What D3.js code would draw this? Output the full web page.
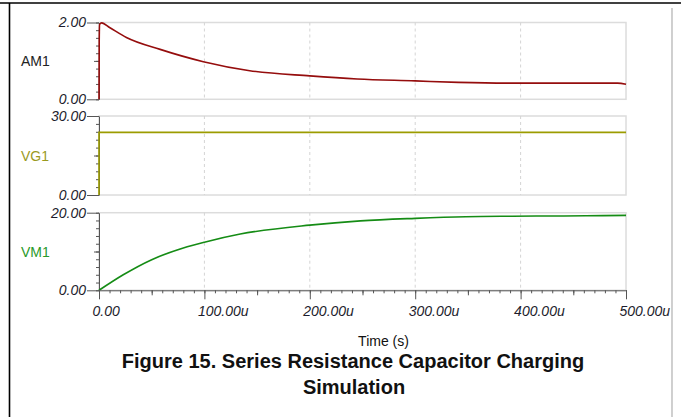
<!DOCTYPE html>
<html>
<head>
<meta charset="utf-8">
<script src="https://cdn.jsdelivr.net/npm/d3@7"></script>
<style>
  body { margin: 0; background: #fff; }
  svg { display: block; font-family: "Liberation Sans", Arial, sans-serif; }
  .lbl { font-size: 14px; font-style: italic; fill: #1c1c2c; }
</style>
</head>
<body>
<svg width="681" height="417"></svg>
<script>
// time in microseconds
var amTime = [0, 0.2, 0.6, 2.5, 10, 26, 58, 99, 143, 200, 245, 300, 341, 387, 492, 500];
var amValue = [0, 1.5, 1.95, 1.99, 1.87, 1.61, 1.30, 0.98, 0.745, 0.61, 0.53, 0.48, 0.44, 0.42, 0.42, 0.39];

var vgTime = [0, 0, 500];
var vgValue = [0, 23.8, 23.8];

var vmTime = [0, 23, 50, 80, 100, 134, 200, 248, 300, 348, 392, 462, 500];
var vmValue = [0, 4.0, 7.9, 10.9, 12.4, 14.5, 16.8, 17.9, 18.55, 18.97, 19.1, 19.2, 19.3];

var xTicks = [0, 100, 200, 300, 400, 500];
var xTickLabels = ["0.00", "100.00u", "200.00u", "300.00u", "400.00u", "500.00u"];

var panelNames = ["AM1", "VG1", "VM1"];
var panelMax = [2, 30, 20];

var width = 681;
var height = 417;
var plotLeft = 99;
var plotRight = 626;

var svg = d3.select('svg');

svg.append("rect").attr("width", width).attr("height", height).attr("fill", "#fff");

// page frame
svg.append("line").attr("x1", 0).attr("x2", width).attr("y1", 3).attr("y2", 3)
  .attr("stroke", "#000").attr("stroke-width", 1.6);
svg.append("line").attr("x1", 9.5).attr("x2", 9.5).attr("y1", 3).attr("y2", height)
  .attr("stroke", "#000").attr("stroke-width", 1.6);
svg.append("line").attr("x1", 672).attr("x2", 672).attr("y1", 8).attr("y2", height)
  .attr("stroke", "#c4c4c4").attr("stroke-width", 1.6);

var x = d3.scaleLinear().domain([0, 500]).range([plotLeft, plotRight]);

var panels = [
  {name: panelNames[0], max: panelMax[0], top: 22.5, bottom: 99.3, labelColor: "#222",
   lineColor: "#950d0d", time: amTime, value: amValue, curve: d3.curveMonotoneX},
  {name: panelNames[1], max: panelMax[1], top: 116, bottom: 195, labelColor: "#9a9a1e",
   lineColor: "#9c9c00", time: vgTime, value: vgValue, curve: d3.curveLinear},
  {name: panelNames[2], max: panelMax[2], top: 212.7, bottom: 290.3, labelColor: "#2a9a2a",
   lineColor: "#158c15", time: vmTime, value: vmValue, curve: d3.curveMonotoneX}
];

var fmt = d3.format(".2f");

panels.forEach(function (p, i) {
  var y = d3.scaleLinear().domain([0, p.max]).range([p.bottom, p.top]);
  var g = svg.append("g");

  // frame
  g.append("rect")
    .attr("x", plotLeft).attr("y", p.top)
    .attr("width", plotRight - plotLeft).attr("height", p.bottom - p.top)
    .attr("fill", "none").attr("stroke", "#dcdcdc").attr("stroke-width", 1.5);

  // dashed vertical grid
  g.selectAll("line.grid")
    .data(xTicks.slice(1, -1))
    .enter()
    .append("line")
    .attr("class", "grid")
    .attr("x1", x).attr("x2", x)
    .attr("y1", p.top).attr("y2", p.bottom)
    .attr("stroke", "#d4d4d4").attr("stroke-dasharray", "3,3");

  // y axis ticks: minor, middle, ends
  var minor = d3.range(0, 11).map(function (k) { return p.max * k / 10; });
  g.append("g")
    .attr("transform", "translate(" + plotLeft + ",0)")
    .call(d3.axisLeft(y).tickValues(minor).tickSize(3).tickFormat(""))
    .call(function (a) { a.select(".domain").remove(); });
  g.append("g")
    .attr("transform", "translate(" + plotLeft + ",0)")
    .call(d3.axisLeft(y).tickValues([p.max / 2]).tickSize(5).tickFormat(""))
    .call(function (a) { a.select(".domain").remove(); });
  var major = g.append("g")
    .attr("transform", "translate(" + plotLeft + ",0)")
    .call(d3.axisLeft(y).tickValues([0, p.max]).tickSize(12).tickSizeOuter(0)
      .tickPadding(1).tickFormat(fmt));
  major.attr("font-size", 14).attr("font-family", null);
  g.selectAll(".tick line").attr("stroke", "#555");
  major.select(".domain").attr("stroke", "#555");
  major.selectAll("text").attr("class", "lbl");

  // series name
  svg.append("text")
    .attr("x", 21).attr("y", (p.top + p.bottom) / 2 + 5)
    .style("font-size", "14px").style("fill", p.labelColor)
    .text(p.name);

  // series line
  var pts = p.time.map(function (t, k) { return [t, p.value[k]]; });
  var line = d3.line()
    .curve(p.curve)
    .x(function (d) { return x(d[0]); })
    .y(function (d) { return y(d[1]); });
  svg.append("path")
    .datum(pts)
    .attr("d", line)
    .attr("fill", "none")
    .attr("stroke", p.lineColor)
    .attr("stroke-width", 1.6);

  // bottom time axis only on last panel
  if (i === panels.length - 1) {
    var minorX = d3.range(0, 51).map(function (k) { return k * 10; });
    var ax = svg.append("g").attr("transform", "translate(0," + p.bottom + ")");
    ax.append("g")
      .call(d3.axisBottom(x).tickValues(minorX).tickSize(3).tickFormat(""))
      .call(function (a) { a.select(".domain").remove(); });
    ax.append("g")
      .call(d3.axisBottom(x).tickValues([50, 150, 250, 350, 450]).tickSize(5).tickFormat(""))
      .call(function (a) { a.select(".domain").remove(); });
    var mx = ax.append("g")
      .call(d3.axisBottom(x).tickValues(xTicks).tickSize(9).tickSizeOuter(0)
        .tickFormat(function (d, k) { return xTickLabels[k]; }));
    mx.attr("font-size", 14).attr("font-family", null);
    ax.selectAll(".tick line").attr("stroke", "#555");
    mx.select(".domain").attr("stroke", "#555");
    mx.selectAll("text")
      .attr("class", "lbl")
      .attr("text-anchor", "start").attr("x", -7).attr("y", 26).attr("dy", 0);
  }
});

// text label for the x axis
svg.append("text")
  .attr("x", 383.5).attr("y", 346)
  .attr("text-anchor", "middle")
  .style("font-size", "14px").style("fill", "#111")
  .text("Time (s)");

// caption
var caption = svg.append("text")
  .attr("text-anchor", "middle")
  .style("font-size", "20px").style("font-weight", "bold").style("fill", "#111");
caption.append("tspan").attr("x", 353).attr("y", 368).text("Figure 15. Series Resistance Capacitor Charging");
caption.append("tspan").attr("x", 354).attr("y", 394).text("Simulation");
</script>
</body>
</html>
